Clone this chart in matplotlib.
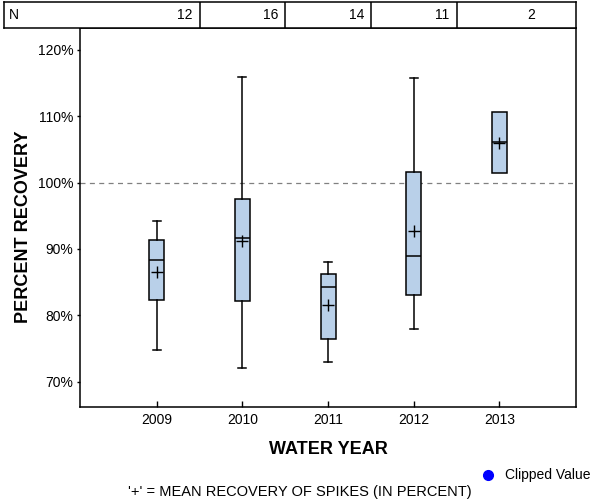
# -*- coding: utf-8 -*-
"""Spike recovery boxplots by water year"""

import matplotlib
matplotlib.use('Agg')
import matplotlib.pyplot as plt
from matplotlib.lines import Line2D

plt.rcParams['font.family'] = ['Liberation Sans', 'DejaVu Sans']

# dados
anos = [2009, 2010, 2011, 2012, 2013]
n_amostras = [12, 16, 14, 11, 2]
minimo = [74.7, 72.0, 72.9, 77.9, None]
q1 = [82.3, 82.1, 76.4, 83.1, 101.4]
mediana = [88.3, 91.6, 84.2, 88.9, 106.1]
media = [86.5, 91.2, 81.6, 92.7, 105.9]
q3 = [91.3, 97.5, 86.2, 101.6, 110.7]
maximo = [94.2, 115.9, 88.1, 115.7, None]

cor_caixa = '#B9D0E9'

fig = plt.figure(figsize=(6, 5), dpi=100)
ax_left, ax_bottom, ax_w, ax_h = 80.4 / 600, 1 - 406.5 / 500, (575.7 - 80.4) / 600, (406.5 - 28) / 500
ax = fig.add_axes([ax_left, ax_bottom, ax_w, ax_h])

stats = []
for i in range(len(anos)):
    lo = minimo[i] if minimo[i] is not None else q1[i]
    hi = maximo[i] if maximo[i] is not None else q3[i]
    stats.append(dict(med=mediana[i], q1=q1[i], q3=q3[i], whislo=lo, whishi=hi,
                      mean=media[i], fliers=[]))

bp = ax.bxp(stats, positions=anos, widths=0.175, capwidths=0.093,
            patch_artist=True, showmeans=True, showfliers=False,
            boxprops=dict(facecolor=cor_caixa, edgecolor='black', linewidth=1.1),
            medianprops=dict(color='black', linewidth=1.1),
            whiskerprops=dict(color='black', linewidth=1.1),
            capprops=dict(color='black', linewidth=1.1),
            meanprops=dict(marker='+', markeredgecolor='black', markersize=8, markeredgewidth=1.0))
for i in range(len(anos)):
    if minimo[i] is None:
        bp['caps'][2 * i].set_visible(False)
        bp['caps'][2 * i + 1].set_visible(False)

ax.axhline(100, color='#808080', linewidth=0.9, linestyle=(0, (4, 3.5)), zorder=0)

ax.set_xlim(2008.11, 2013.89)
ax.set_ylim(66.25, 123.3)
ax.set_xticks(anos)
ax.set_xticklabels([str(a) for a in anos], fontsize=10)
ax.set_yticks([70, 80, 90, 100, 110, 120])
ax.set_yticklabels(['70%', '80%', '90%', '100%', '110%', '120%'], fontsize=10)
ax.tick_params(axis='x', direction='in', length=4, width=1, pad=5)
ax.tick_params(axis='y', direction='out', length=2.5, width=1, pad=2.5)
for s in ax.spines.values():
    s.set_linewidth(1.1)

# cabecalho com N
px_unit = ax_w * 600 / (2013.89 - 2008.11)
hdr_l = 4 / 600
hdr = fig.add_axes([hdr_l, 1 - 28 / 500, ax_left + ax_w - hdr_l, 26 / 500])
hdr.set_xlim(2008.11 - (ax_left - hdr_l) * 600 / px_unit, 2013.89)
hdr.set_ylim(0, 1)
hdr.set_xticks([])
hdr.set_yticks([])
for s in hdr.spines.values():
    s.set_linewidth(1.1)
for a in anos[:-1]:
    hdr.axvline(a + 0.5, color='black', linewidth=1.1)
fig.text(9 / 600, 1 - 15 / 500, 'N', fontsize=10, va='center', ha='left')
for a, n in zip(anos, n_amostras):
    hdr.text(a + 0.5 - 7 / px_unit, 0.5, str(n), fontsize=10, va='center', ha='right')

fig.text(23.5 / 600, 1 - 227 / 500, 'PERCENT RECOVERY', rotation=90, fontsize=13,
         fontweight='bold', ha='center', va='center')
fig.text(328 / 600, 1 - 449 / 500, 'WATER YEAR', fontsize=13, fontweight='bold',
         ha='center', va='center')

# legenda
fig.add_artist(Line2D([488 / 600], [1 - 474.5 / 500], marker='o', markersize=7,
                      color='#0000FF', linestyle='none', transform=fig.transFigure))
fig.text(505 / 600, 1 - 474.5 / 500, 'Clipped Value', fontsize=10, ha='left', va='center')
fig.text(300 / 600, 1 - 492 / 500, "'+' = MEAN RECOVERY OF SPIKES (IN PERCENT)", fontsize=10.5,
         ha='center', va='center')

fig.savefig('out.png', dpi=100)
